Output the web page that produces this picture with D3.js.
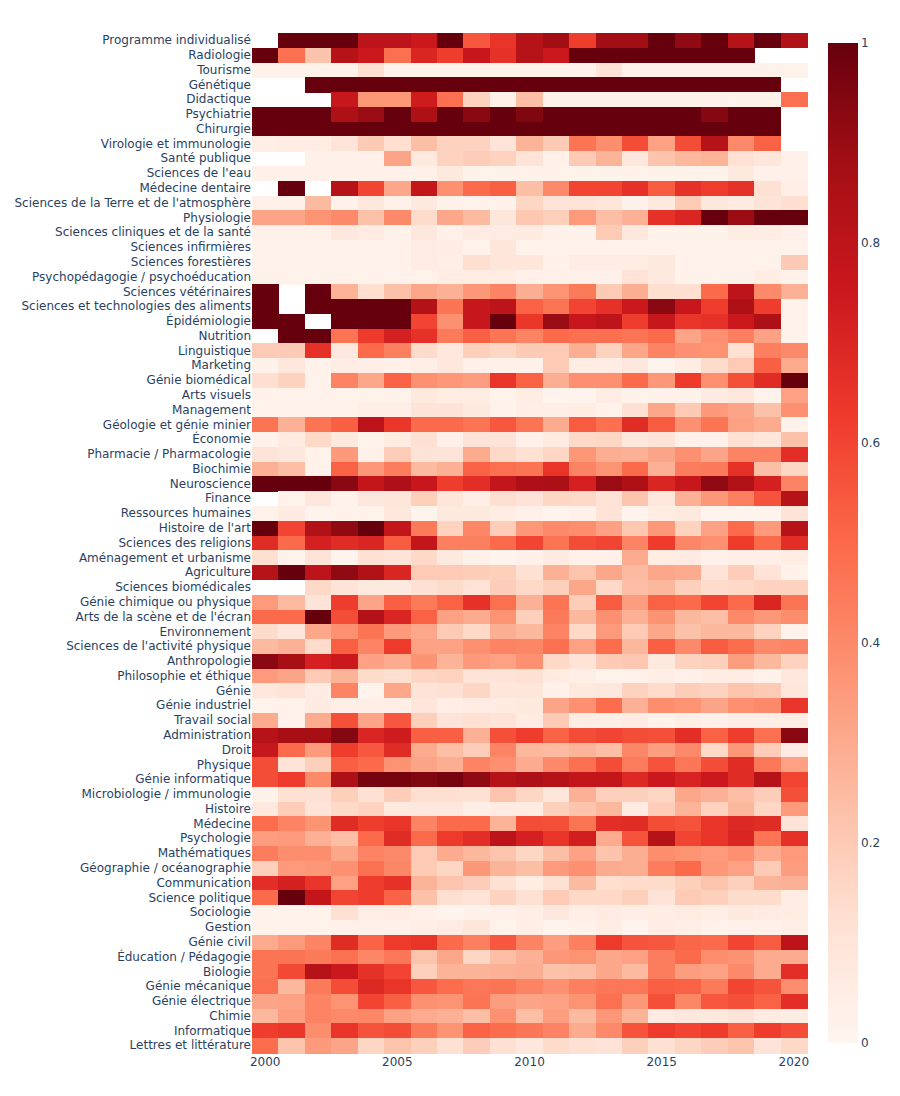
<!DOCTYPE html>
<html><head><meta charset="utf-8">
<script src="https://cdn.jsdelivr.net/npm/d3@7"></script>
<style>html,body{margin:0;padding:0;background:#fff}svg{display:block}
text{font-family:"DejaVu Sans",Verdana,sans-serif;font-size:12px;fill:#2a3f5f}
.domain{display:none}</style></head><body><svg id="c" width="900" height="1096"></svg>
<script>
const years=d3.range(2000,2021);
const xTicks=[2000,2005,2010,2015,2020];
const cbTicks=[0,0.2,0.4,0.6,0.8,1];
const reds=['rgb(255,245,240)','rgb(254,224,210)','rgb(252,187,161)','rgb(252,146,114)','rgb(251,106,74)','rgb(239,59,44)','rgb(203,24,29)','rgb(165,15,21)','rgb(103,0,13)'];
const fields=["Programme individualisé","Radiologie","Tourisme","Génétique","Didactique","Psychiatrie","Chirurgie","Virologie et immunologie","Santé publique","Sciences de l'eau","Médecine dentaire","Sciences de la Terre et de l'atmosphère","Physiologie","Sciences cliniques et de la santé","Sciences infirmières","Sciences forestières","Psychopédagogie / psychoéducation","Sciences vétérinaires","Sciences et technologies des aliments","Épidémiologie","Nutrition","Linguistique","Marketing","Génie biomédical","Arts visuels","Management","Géologie et génie minier","Économie","Pharmacie / Pharmacologie","Biochimie","Neuroscience","Finance","Ressources humaines","Histoire de l'art","Sciences des religions","Aménagement et urbanisme","Agriculture","Sciences biomédicales","Génie chimique ou physique","Arts de la scène et de l'écran","Environnement","Sciences de l'activité physique","Anthropologie","Philosophie et éthique","Génie","Génie industriel","Travail social","Administration","Droit","Physique","Génie informatique","Microbiologie / immunologie","Histoire","Médecine","Psychologie","Mathématiques","Géographie / océanographie","Communication","Science politique","Sociologie","Gestion","Génie civil","Éducation / Pédagogie","Biologie","Génie mécanique","Génie électrique","Chimie","Informatique","Lettres et littérature"];
const _=null;
const values=[
[_,1,1,1,.8,.8,.75,1,.55,.65,.82,.88,.62,.88,.88,1,.92,1,.82,1,.84],
[1,.48,.22,.82,.75,.48,.7,.62,.76,.66,.82,.75,1,1,1,1,1,1,1,_,_],
[.02,.02,.02,.02,.13,.02,.02,.02,.02,.02,.02,.02,.02,.11,.02,.02,.02,.02,.02,.02,.02],
[_,_,1,1,1,1,1,1,1,1,1,1,1,1,1,1,1,1,1,1,_],
[_,_,_,.77,.36,.36,.74,.48,.17,.03,.24,.02,.02,.02,.02,.02,.02,.02,.02,.02,.48],
[1,1,1,.85,.9,1,.85,1,.93,1,.95,1,1,1,1,1,1,.94,1,1,_],
[1,1,1,1,1,1,1,1,1,1,1,1,1,1,1,1,1,1,1,1,_],
[.04,.05,.05,.1,.2,.13,.24,.17,.17,.1,.27,.2,.47,.39,.58,.33,.58,.82,.4,.52,_],
[_,_,.03,.03,.03,.32,.07,.17,.19,.17,.1,.03,.2,.27,.08,.22,.26,.27,.12,.09,.03],
[.03,.03,.03,.03,.03,.03,.03,.07,.02,.02,.02,.02,.02,.02,.02,.02,.02,.02,.07,.03,.03],
[_,1,_,.82,.6,.31,.78,.38,.5,.53,.24,.4,.6,.6,.66,.54,.66,.62,.66,.12,.04],
[.03,.03,.25,.02,.08,.03,.07,.02,.02,.02,.16,.1,.11,.09,.02,.07,.2,.08,.06,.1,.13],
[.32,.32,.37,.4,.23,.4,.14,.31,.25,.09,.21,.18,.35,.24,.28,.66,.7,1,.9,1,1],
[.03,.03,.03,.08,.06,.02,.08,.03,.06,.06,.06,.02,.02,.2,.08,.02,.02,.02,.05,.05,.03],
[.02,.02,.02,.02,.02,.02,.06,.05,.02,.09,.02,.02,.02,.02,.02,.02,.02,.02,.02,.02,.02],
[.02,.02,.02,.02,.02,.02,.06,.04,.13,.09,.09,.02,.05,.05,.05,.07,.02,.02,.02,.02,.2],
[.02,.02,.02,.02,.02,.02,.02,.05,.05,.05,.03,.03,.03,.03,.11,.07,.02,.02,.02,.05,.02],
[1,_,1,.27,.13,.23,.31,.28,.36,.42,.29,.37,.45,.2,.29,.13,.13,.5,.8,.4,.28],
[1,_,1,1,1,1,.83,.47,.77,.8,.52,.47,.6,.66,.75,.93,.76,.62,.85,.62,.02],
[1,1,_,1,1,1,.6,.38,.77,1,.64,.9,.76,.8,.62,.77,.65,.66,.75,.85,.02],
[_,1,1,.47,.63,.72,.66,.45,.53,.47,.42,.5,.48,.48,.47,.5,.32,.38,.43,.33,.02],
[.2,.2,.66,.08,.5,.43,.14,.08,.18,.16,.2,.2,.29,.17,.31,.42,.38,.37,.12,.43,.4],
[.02,.08,.02,.05,.04,.03,.04,.08,.03,.03,.03,.2,.05,.05,.08,.01,.05,.14,.2,.53,.3],
[.13,.17,.02,.42,.31,.52,.38,.36,.34,.65,.52,.29,.38,.38,.5,.36,.63,.38,.57,.68,1],
[.02,.02,.02,.02,.02,.02,.07,.05,.05,.02,.05,.01,.01,.05,.02,.02,.02,.06,.08,.02,.33],
[.02,.02,.02,.02,.04,.04,.1,.1,.07,.02,.04,.04,.05,.02,.12,.31,.2,.35,.32,.23,.38],
[.47,.28,.47,.53,.8,.64,.5,.5,.47,.55,.47,.3,.54,.48,.68,.54,.38,.47,.33,.3,.02],
[.02,.06,.15,.07,.02,.06,.12,.03,.1,.1,.03,.06,.15,.16,.08,.11,.03,.03,.12,.09,.23],
[.1,.08,.02,.35,.03,.19,.11,.1,.3,.15,.12,.16,.36,.29,.28,.32,.38,.32,.42,.42,.67],
[.28,.24,.02,.52,.36,.44,.25,.28,.52,.48,.47,.65,.42,.37,.5,.28,.44,.45,.66,.24,.16],
[1,1,1,.93,.78,.85,.76,.62,.67,.78,.85,.86,.72,.9,.85,.7,.77,.92,.84,.72,.42],
[_,.02,.08,.02,.08,.09,.18,.09,.04,.13,.1,.16,.15,.11,.22,.08,.28,.36,.43,.56,.82],
[.02,.06,.01,.02,.02,.08,.01,.07,.07,.05,.03,.01,.03,.11,.01,.05,.07,.01,.01,.01,.1],
[1,.6,.84,.92,1,.78,.45,.17,.41,.19,.36,.4,.39,.33,.21,.36,.17,.33,.5,.35,.82],
[.68,.5,.72,.68,.7,.54,.78,.43,.43,.5,.6,.47,.58,.6,.42,.63,.41,.38,.63,.5,.67],
[.13,.02,.1,.01,.12,.1,.15,.07,.03,.01,.03,.06,.03,.03,.3,.05,.06,.03,.04,.04,.05],
[.82,1,.8,.92,.84,.7,.2,.2,.19,.18,.12,.28,.22,.31,.25,.31,.3,.1,.19,.11,.02],
[_,_,.15,.1,.07,.07,.12,.14,.11,.19,.15,.18,.31,.15,.24,.26,.18,.14,.15,.17,.17],
[.35,.25,.1,.62,.32,.53,.45,.52,.66,.48,.28,.47,.19,.54,.34,.52,.5,.6,.5,.7,.47],
[.5,.5,1,.58,.83,.7,.52,.33,.3,.37,.18,.45,.26,.38,.28,.37,.26,.24,.4,.36,.39],
[.14,.09,.31,.38,.47,.35,.31,.2,.15,.29,.26,.42,.15,.35,.2,.31,.23,.26,.26,.17,.02],
[.25,.28,.14,.53,.42,.63,.33,.33,.38,.42,.41,.48,.33,.49,.26,.53,.4,.54,.49,.4,.42],
[.93,.87,.72,.75,.33,.3,.37,.27,.35,.33,.38,.15,.11,.2,.21,.07,.17,.18,.34,.26,.17],
[.35,.32,.2,.27,.14,.13,.16,.17,.1,.1,.12,.06,.04,.02,.02,.04,.03,.05,.05,.02,.08],
[.08,.11,.06,.42,.01,.31,.1,.12,.16,.09,.09,.03,.07,.08,.17,.14,.19,.17,.22,.2,.09],
[.02,.02,.06,.04,.04,.04,.09,.04,.06,.06,.07,.32,.38,.49,.28,.39,.37,.32,.38,.4,.65],
[.3,.02,.3,.57,.32,.55,.18,.1,.12,.11,.06,.2,.05,.04,.06,.02,.04,.03,.04,.04,.05],
[.82,.87,.87,.94,.7,.74,.53,.53,.28,.57,.62,.52,.58,.6,.58,.57,.67,.52,.62,.48,.93],
[.77,.5,.35,.62,.55,.68,.3,.24,.19,.42,.26,.25,.27,.24,.41,.34,.4,.15,.36,.19,.06],
[.58,.1,.18,.53,.5,.37,.32,.29,.42,.38,.3,.4,.48,.58,.44,.56,.46,.58,.68,.46,.33],
[.58,.63,.4,.85,.97,.97,.95,.97,.92,.82,.85,.82,.78,.78,.69,.75,.71,.75,.68,.82,.6],
[.02,.12,.12,.18,.12,.19,.13,.13,.12,.22,.16,.09,.28,.18,.18,.16,.31,.28,.24,.19,.57],
[.07,.19,.1,.15,.17,.07,.08,.08,.04,.06,.06,.18,.22,.26,.06,.19,.27,.17,.26,.16,.35],
[.49,.42,.37,.68,.62,.65,.42,.5,.5,.27,.58,.57,.47,.67,.68,.58,.56,.65,.69,.68,.1],
[.34,.35,.28,.24,.5,.68,.5,.63,.67,.8,.72,.65,.73,.3,.56,.82,.6,.65,.7,.47,.66],
[.44,.39,.39,.31,.42,.4,.2,.3,.26,.22,.16,.24,.33,.22,.29,.39,.37,.35,.38,.3,.35],
[.18,.35,.36,.38,.48,.41,.2,.16,.36,.27,.24,.35,.38,.3,.29,.44,.5,.36,.33,.2,.34],
[.67,.72,.65,.33,.62,.66,.27,.22,.19,.12,.05,.12,.25,.13,.14,.14,.18,.22,.18,.27,.28],
[.5,1,.78,.6,.62,.52,.23,.13,.11,.17,.12,.2,.15,.15,.18,.1,.2,.18,.14,.14,.05],
[.02,.02,.02,.12,.04,.05,.03,.01,.02,.03,.04,.08,.04,.06,.04,.05,.06,.04,.07,.06,.05],
[.02,.02,.02,.03,.03,.03,.04,.06,.09,.02,.04,.01,.02,.05,.01,.05,.04,.02,.03,.03,.04],
[.3,.35,.42,.68,.52,.63,.65,.5,.43,.55,.42,.34,.43,.63,.56,.55,.51,.5,.6,.54,.8],
[.47,.47,.45,.48,.41,.46,.22,.31,.16,.24,.28,.36,.37,.31,.33,.44,.5,.39,.37,.3,.3],
[.47,.59,.82,.75,.66,.6,.18,.27,.27,.28,.29,.23,.24,.31,.25,.44,.34,.33,.4,.3,.67],
[.48,.26,.45,.58,.69,.65,.55,.49,.46,.47,.42,.38,.43,.46,.46,.53,.52,.45,.6,.56,.39],
[.32,.33,.42,.37,.6,.53,.38,.37,.47,.34,.32,.33,.37,.48,.36,.57,.41,.55,.57,.52,.67],
[.26,.34,.42,.4,.41,.33,.3,.28,.24,.38,.24,.34,.25,.36,.27,.06,.08,.07,.1,.06,.05],
[.62,.64,.39,.65,.56,.58,.45,.37,.52,.49,.46,.42,.3,.4,.56,.63,.6,.63,.53,.62,.58],
[.49,.22,.35,.32,.16,.22,.18,.12,.19,.12,.08,.14,.12,.1,.18,.12,.16,.19,.22,.1,.15]
];

const svg=d3.select('#c');
const plot={l:252,r:807,t:33,b:1053};
const x=d3.scaleBand().domain(years).range([plot.l,plot.r]);
const y=d3.scaleBand().domain(fields).range([plot.t,plot.b]);
const color=d3.scaleLinear().domain(reds.map((c,i)=>i/(reds.length-1))).range(reds).interpolate(d3.interpolateRgb);

const cells=values.flatMap((row,r)=>row.map((v,c)=>({field:fields[r],year:years[c],v})).filter(d=>d.v!==null));
svg.append('g').attr('shape-rendering','crispEdges').selectAll('rect').data(cells).join('rect')
  .attr('x',d=>x(d.year)).attr('y',d=>y(d.field))
  .attr('width',x.bandwidth()+.5).attr('height',y.bandwidth()+.5)
  .attr('fill',d=>color(d.v));

svg.append('g').attr('transform',`translate(${plot.l-1},0)`)
  .call(d3.axisLeft(y).tickSize(0).tickPadding(0));
svg.append('g').attr('transform',`translate(0,${plot.b})`)
  .call(d3.axisBottom(x).tickValues(xTicks).tickFormat(d3.format('d')).tickSize(0).tickPadding(4.5));

// colour bar
const cb={x:828,w:30,t:43,b:1043};
const cy=d3.scaleLinear().domain([0,1]).range([cb.b,cb.t]);
const gid='cbGrad';
const grad=svg.append('defs').append('linearGradient').attr('id',gid).attr('x1',0).attr('x2',0).attr('y1',1).attr('y2',0);
grad.selectAll('stop').data(reds).join('stop').attr('offset',(d,i)=>i/(reds.length-1)).attr('stop-color',d=>d);
svg.append('rect').attr('x',cb.x).attr('y',cb.t).attr('width',cb.w).attr('height',cb.b-cb.t).attr('fill',`url(#${gid})`);
svg.append('g').attr('transform',`translate(${cb.x+cb.w},0)`)
  .call(d3.axisRight(cy).tickValues(cbTicks).tickFormat(d3.format('~g')).tickSize(0).tickPadding(3));
</script></body></html>
